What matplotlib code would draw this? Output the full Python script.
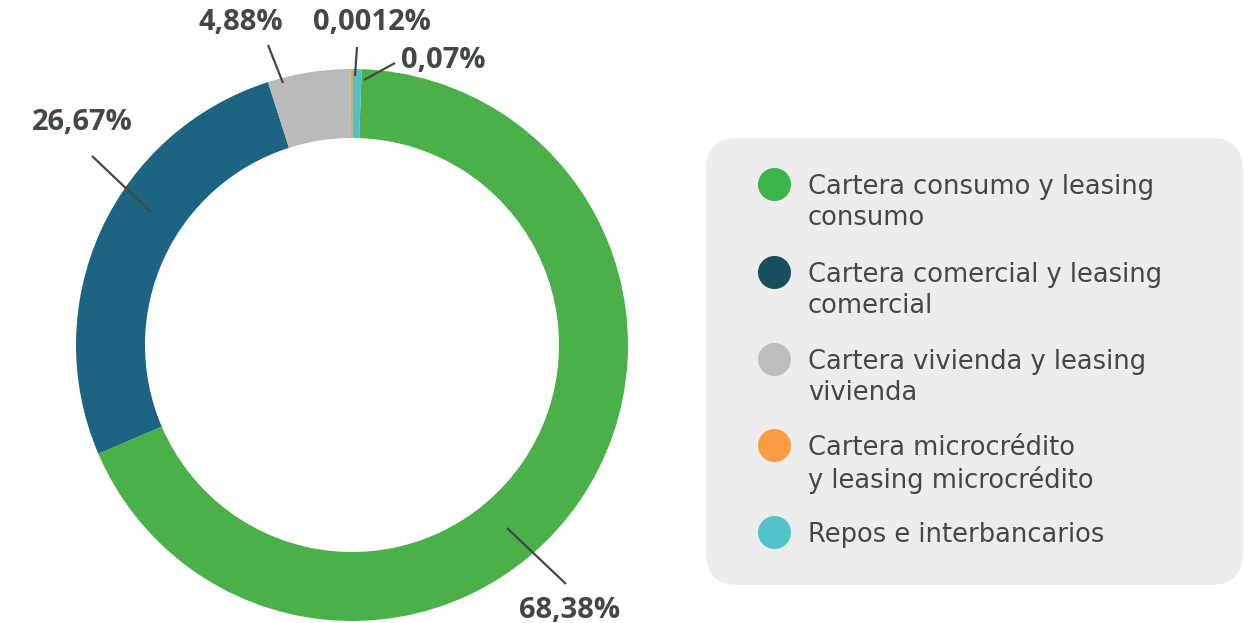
import matplotlib.pyplot as plt
from matplotlib.patches import FancyBboxPatch

# data
categories = ["Cartera consumo y leasing\nconsumo",
              "Cartera comercial y leasing\ncomercial",
              "Cartera vivienda y leasing\nvivienda",
              "Cartera microcrédito\ny leasing microcrédito",
              "Repos e interbancarios"]
labels = ["68,38%", "26,67%", "4,88%", "0,0012%", "0,07%"]
# share as drawn in the picture (tiny slices are drawn wider than their value)
shares = [68.38, 26.67, 4.88, 0.13, 0.5]

pie_colors = ["#4bb04a", "#1d6482", "#b9bbba", "#f99b3e", "#50c1c8"]
dot_colors = ["#3db54a", "#16505f", "#bcbebe", "#f99d42", "#52c3c9"]
text_color = "#444748"

W, H = 1244, 623


def Y(y):
    # picture pixel rows -> axes y
    return H - y


fig = plt.figure(figsize=(W / 100, H / 100), dpi=100)
ax = fig.add_axes([0, 0, 1, 1])

ax.pie(shares, colors=pie_colors, startangle=88.0, counterclock=False,
       radius=276, center=(352, Y(345)),
       wedgeprops=dict(width=69, linewidth=0))

# label text position and leader line (picture pixels)
label_layout = [
    ((570, 610), (507, 528), (566, 584)),
    ((82, 122), (151, 212), (92, 156)),
    ((241, 22), (283, 83), (268, 45)),
    ((372, 22), (355, 76), (357, 47)),
    ((443, 60), (364, 80), (395, 63)),
]
for lab, (tpos, p0, p1) in zip(labels, label_layout):
    ax.plot([p0[0], p1[0]], [Y(p0[1]), Y(p1[1])], color=text_color,
            lw=1.6, solid_capstyle='butt')
    ax.text(tpos[0], Y(tpos[1]), lab, ha='center', va='center',
            fontsize=21, fontweight='bold', family=['Open Sans', 'DejaVu Sans'],
            color=text_color)

# legend panel
box = FancyBboxPatch((706, Y(585)), 537, 447,
                     boxstyle="round,pad=0,rounding_size=32",
                     fc="#ededed", ec="none")
ax.add_patch(box)

row_y = [184, 272, 359, 445, 532]
for cat, col, ry in zip(categories, dot_colors, row_y):
    ax.scatter([774], [Y(ry)], s=33 ** 2 * 0.52, color=col, zorder=3,
               linewidths=0)
    ax.text(808, Y(ry - 10), cat, ha='left', va='top', fontsize=18.5,
            color=text_color, linespacing=1.25)

ax.set_xlim(0, W)
ax.set_ylim(0, H)
ax.set_aspect('equal')
ax.axis('off')

fig.savefig("out.png", dpi=100)
